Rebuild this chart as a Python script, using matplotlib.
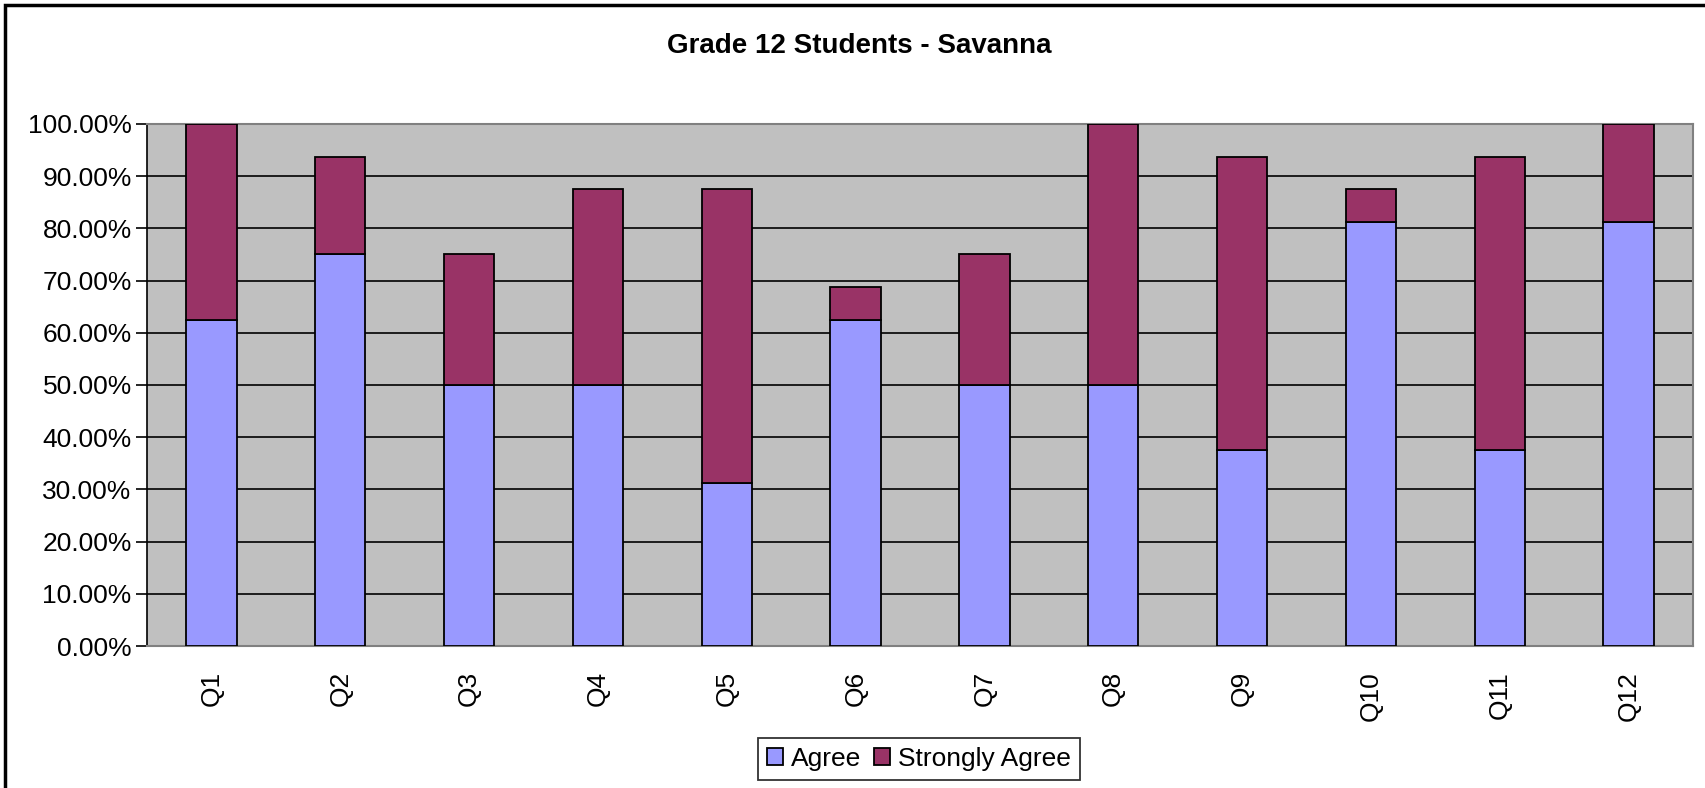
import numpy as np
import matplotlib.pyplot as plt
from matplotlib.patches import Rectangle
from matplotlib.ticker import FuncFormatter

plt.rcParams['font.family'] = ['Liberation Sans', 'DejaVu Sans']

# Survey data (share of 16 students)
questions = ["Q1", "Q2", "Q3", "Q4", "Q5", "Q6", "Q7", "Q8", "Q9", "Q10", "Q11", "Q12"]
agree = [62.5, 75.0, 50.0, 50.0, 31.25, 62.5, 50.0, 50.0, 37.5, 81.25, 37.5, 81.25]
strongly_agree = [37.5, 18.75, 25.0, 37.5, 56.25, 6.25, 25.0, 50.0, 56.25, 6.25, 56.25, 18.75]

W, H = 1705, 788
fig = plt.figure(figsize=(W / 100, H / 100), dpi=100)

# plot area in pixel coords
left, right, top, bottom = 147, 1693, 124, 646
ax = fig.add_axes([left / W, 1 - bottom / H, (right - left) / W, (bottom - top) / H])
ax.set_facecolor("#C0C0C0")

x = np.arange(len(questions))
ax.bar(x, agree, width=0.39, color="#9999FF", edgecolor="black", linewidth=1.3,
       label="Agree", zorder=3)
ax.bar(x, strongly_agree, width=0.39, bottom=agree, color="#993366",
       edgecolor="black", linewidth=1.3, label="Strongly Agree", zorder=3)

ax.set_xlim(-0.5, len(questions) - 0.5)
ax.set_ylim(0, 100)
ax.set_yticks(np.arange(0, 101, 10))
ax.yaxis.set_major_formatter(FuncFormatter(lambda v, p: f"{v:.2f}%"))
ax.grid(axis="y", color="black", linewidth=1.2, zorder=1)
ax.set_axisbelow(True)

ax.set_xticks(x)
ax.set_xticklabels(questions, rotation=90)
ax.tick_params(axis="x", length=0, pad=18, labelsize=19)
ax.tick_params(axis="y", length=8, width=1.2, color="black", labelsize=19, pad=3)

for s in ["top", "right", "bottom"]:
    ax.spines[s].set_color("#808080")
    ax.spines[s].set_linewidth(1.5)
ax.spines["left"].set_color("black")
ax.spines["left"].set_linewidth(1.2)

fig.text(859 / W, 1 - 46 / H, "Grade 12 Students - Savanna", ha="center", va="center",
         fontsize=20, fontweight="bold")

leg = fig.legend(loc="center", bbox_to_anchor=(919 / W, 1 - 759 / H), ncol=2,
                 fontsize=19, frameon=True, fancybox=False, edgecolor="black",
                 handlelength=0.6, handleheight=0.6, handletextpad=0.3,
                 columnspacing=0.5, borderpad=0.35)
leg.get_frame().set_linewidth(1.3)

# outer chart frame
fig.patches.append(Rectangle((5 / W, -0.02), (W - 3) / W, 1 - 5 / H + 0.02,
                             transform=fig.transFigure, fill=False,
                             edgecolor="black", linewidth=2.5))

fig.savefig("out.png", dpi=100)
